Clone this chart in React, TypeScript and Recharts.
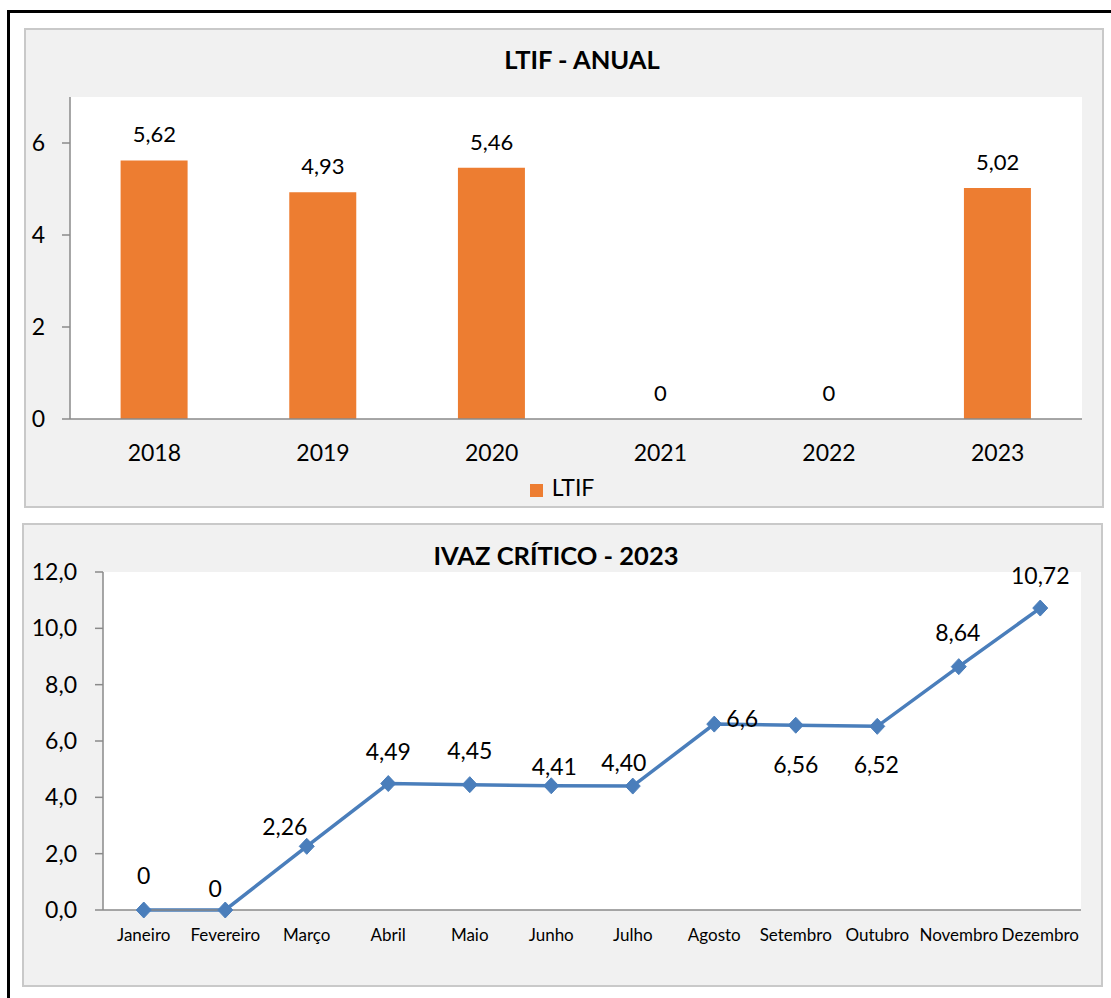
import React from "react";
import {
  ComposedChart,
  Bar,
  LineChart,
  Line,
  XAxis,
  YAxis,
  CartesianGrid,
  LabelList,
  Legend,
} from "recharts";

const ltifYears = ["2018", "2019", "2020", "2021", "2022", "2023"];
const ltifValues = [5.62, 4.93, 5.46, 0, 0, 5.02];
const ltifLabels = ["5,62", "4,93", "5,46", "0", "0", "5,02"];
const ltifTicks = [0, 2, 4, 6];

const ivazMonths = [
  "Janeiro",
  "Fevereiro",
  "Março",
  "Abril",
  "Maio",
  "Junho",
  "Julho",
  "Agosto",
  "Setembro",
  "Outubro",
  "Novembro",
  "Dezembro",
];
const ivazValues = [0, 0, 2.26, 4.49, 4.45, 4.41, 4.4, 6.6, 6.56, 6.52, 8.64, 10.72];
const ivazLabels = ["0", "0", "2,26", "4,49", "4,45", "4,41", "4,40", "6,6", "6,56", "6,52", "8,64", "10,72"];
const ivazTicks = [0, 2, 4, 6, 8, 10, 12];

// label placement around each point (Excel put them by hand)
const ivazLabelDx = [0, -10, -22, 0, 0, 3, -9, 28, 0, -1, -1, 0];
const ivazLabelDy = [-35, -22, -20, -33, -35, -20, -24, -6, 39, 38, -35, -33];

const ltifData = ltifYears.map((year, i) => ({
  year,
  LTIF: ltifValues[i],
  label: ltifLabels[i],
}));

const ivazData = ivazMonths.map((month, i) => ({
  month,
  value: ivazValues[i],
}));

const FONT = "Lato, 'Open Sans', sans-serif";
const AXIS = "#8a8a8a";
const ORANGE = "#ed7d31";
const BLUE = "#4a7ebb";

const panelStyle: React.CSSProperties = {
  position: "absolute",
  boxSizing: "border-box",
  background: "#f1f1f1",
  border: "2px solid #c9c9c9",
};

const titleStyle: React.CSSProperties = {
  position: "absolute",
  width: 600,
  textAlign: "center",
  fontWeight: 700,
  fontSize: 25.5,
  lineHeight: "26px",
  color: "#000",
};

const fmt1 = (v: number) => v.toFixed(1).replace(".", ",");

function Diamond(props: any) {
  const { cx, cy, index } = props;
  if (cx == null || cy == null) return <g key={index} />;
  const d = `M${cx},${cy - 8} L${cx + 7.5},${cy} L${cx},${cy + 8} L${cx - 7.5},${cy} Z`;
  return <path key={index} d={d} fill={BLUE} stroke={BLUE} strokeWidth={1} />;
}

function PointLabel(props: any) {
  const { x, y, index } = props;
  return (
    <text
      x={x + ivazLabelDx[index]}
      y={y + ivazLabelDy[index]}
      textAnchor="middle"
      dominantBaseline="central"
      fontSize={23}
      fill="#000"
    >
      {ivazLabels[index]}
    </text>
  );
}

export default function App() {
  return (
    <div
      style={{
        position: "absolute",
        left: 0,
        top: 0,
        width: 1111,
        height: 998,
        fontFamily: FONT,
        overflow: "hidden",
      }}
    >
      <div
        style={{
          position: "absolute",
          left: 7,
          top: 10,
          width: 1110,
          height: 1000,
          borderTop: "3px solid #000",
          borderLeft: "3px solid #000",
        }}
      />

      {/* LTIF - ANUAL */}
      <div style={{ ...panelStyle, left: 24, top: 28, width: 1080, height: 480 }}>
        <div style={{ ...titleStyle, left: 556 - 300, top: 16 }}>LTIF - ANUAL</div>
        <div style={{ position: "absolute", left: 0, top: 0 }}>
          <ComposedChart
            width={1076}
            height={476}
            data={ltifData}
            margin={{ top: 67, right: 20, bottom: 47, left: 0 }}
            barCategoryGap="30%"
          >
            <CartesianGrid horizontal={false} vertical={false} fill="#fff" stroke="none" />
            <XAxis
              xAxisId="ticks"
              type="number"
              domain={[0, ltifYears.length]}
              ticks={ltifYears.map((_, i) => i).concat(ltifYears.length)}
              height={0}
              tick={false}
              tickSize={8}
              tickLine={{ stroke: AXIS, strokeWidth: 1.5 }}
              axisLine={false}
            />
            <XAxis
              xAxisId="cat"
              dataKey="year"
              height={40}
              tickLine={false}
              tickSize={6}
              tickMargin={20}
              axisLine={{ stroke: AXIS, strokeWidth: 1.5 }}
              tick={{ fill: "#000", fontSize: 23 }}
              interval={0}
            />
            <YAxis
              width={44}
              domain={[0, 7]}
              ticks={ltifTicks}
              tickSize={8}
              tickMargin={17}
              axisLine={{ stroke: AXIS, strokeWidth: 1.5 }}
              tickLine={{ stroke: AXIS, strokeWidth: 1.5 }}
              tick={{ fill: "#000", fontSize: 23 }}
            />
            <Legend
              verticalAlign="middle"
              align="center"
              layout="horizontal"
              iconType="square"
              iconSize={13}
              wrapperStyle={{ top: 443, left: 441, width: 200, fontSize: 23 }}
              formatter={(v: string) => <span style={{ color: "#000", marginLeft: 5 }}>{v}</span>}
            />
            <Bar xAxisId="cat" dataKey="LTIF" name="LTIF" fill={ORANGE} isAnimationActive={false} />
            <Line
              xAxisId="cat"
              dataKey="LTIF"
              stroke="none"
              dot={false}
              activeDot={false}
              legendType="none"
              isAnimationActive={false}
            >
              <LabelList dataKey="label" position="top" offset={18} fill="#000" fontSize={22} />
            </Line>
          </ComposedChart>
        </div>
      </div>

      {/* IVAZ CRÍTICO - 2023 */}
      <div style={{ ...panelStyle, left: 22, top: 523, width: 1081, height: 464 }}>
        <div style={{ ...titleStyle, left: 532 - 300, top: 17 }}>IVAZ CRÍTICO - 2023</div>
        <div style={{ position: "absolute", left: 0, top: 0 }}>
          <LineChart
            width={1077}
            height={460}
            data={ivazData}
            margin={{ top: 47, right: 20, bottom: 35, left: 0 }}
          >
            <CartesianGrid horizontal={false} vertical={false} fill="#fff" stroke="none" />
            <XAxis
              xAxisId="ticks"
              type="number"
              domain={[0, ivazMonths.length]}
              ticks={ivazMonths.map((_, i) => i).concat(ivazMonths.length)}
              height={0}
              tick={false}
              tickSize={6}
              tickLine={{ stroke: AXIS, strokeWidth: 1.5 }}
              axisLine={false}
            />
            <XAxis
              xAxisId="cat"
              dataKey="month"
              scale="band"
              height={40}
              tickLine={false}
              tickSize={5}
              tickMargin={14}
              axisLine={{ stroke: AXIS, strokeWidth: 1.5 }}
              tick={{ fill: "#000", fontSize: 17 }}
              interval={0}
            />
            <YAxis
              width={79}
              domain={[0, 12]}
              ticks={ivazTicks}
              tickFormatter={fmt1}
              tickSize={8}
              tickMargin={18}
              axisLine={{ stroke: AXIS, strokeWidth: 1.5 }}
              tickLine={{ stroke: AXIS, strokeWidth: 1.5 }}
              tick={{ fill: "#000", fontSize: 23 }}
            />
            <Line
              xAxisId="cat"
              type="linear"
              dataKey="value"
              stroke={BLUE}
              strokeWidth={3.5}
              dot={<Diamond />}
              activeDot={false}
              isAnimationActive={false}
            >
              <LabelList dataKey="value" content={<PointLabel />} />
            </Line>
          </LineChart>
        </div>
      </div>
    </div>
  );
}
